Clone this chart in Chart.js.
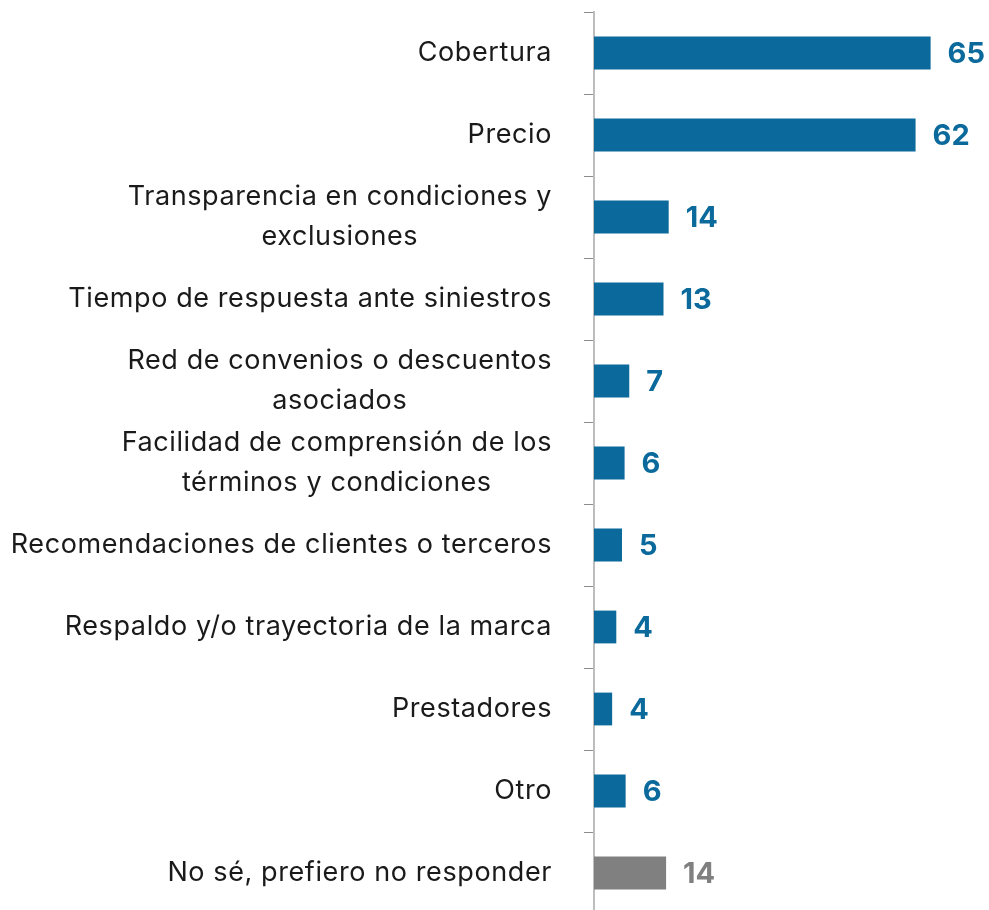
<!DOCTYPE html>
<html>
<head>
<meta charset="utf-8">
<script src="https://cdn.jsdelivr.net/npm/chart.js@4/dist/chart.umd.min.js"></script>
<style>
  html, body { margin: 0; padding: 0; background: #fff; overflow: hidden; }
  canvas { display: block; }
</style>
</head>
<body>
<canvas id="chart" width="989" height="916"></canvas>
<script>
// Data (bar lengths; labels show rounded values)
const categories = [
    ['Cobertura'],
    ['Precio'],
    ['Transparencia en condiciones y', 'exclusiones'],
    ['Tiempo de respuesta ante siniestros'],
    ['Red de convenios o descuentos', 'asociados'],
    ['Facilidad de comprensión de los', 'términos y condiciones'],
    ['Recomendaciones de clientes o terceros'],
    ['Respaldo y/o trayectoria de la marca'],
    ['Prestadores'],
    ['Otro'],
    ['No sé, prefiero no responder']
];
const values = [64.9, 62.0, 14.4, 13.4, 6.8, 5.9, 5.4, 4.3, 3.5, 6.1, 13.9];
const barColors = [
    '#0b6a9b', '#0b6a9b', '#0b6a9b', '#0b6a9b', '#0b6a9b', '#0b6a9b',
    '#0b6a9b', '#0b6a9b', '#0b6a9b', '#0b6a9b', '#808080'
];

const LABEL_FONT = '27px Inter';
const VALUE_FONT = 'bold 29px Inter';

// Category labels: block right aligned next to the axis, lines centred inside it
const categoryLabels = {
    id: 'categoryLabels',
    afterDraw: function (chart) {
        const ctx = chart.ctx;
        const scale = chart.scales.y;
        const right = chart.chartArea.left - 42;
        const lineH = 40;

        ctx.save();
        ctx.font = LABEL_FONT;
        ctx.letterSpacing = '0.6px';
        ctx.fillStyle = '#1a1a1a';
        ctx.textAlign = 'center';
        ctx.textBaseline = 'middle';
        categories.forEach(function (lines, i) {
            const y = scale.getPixelForTick(i);
            const blockW = Math.max.apply(null, lines.map(l => ctx.measureText(l).width));
            const cx = right - blockW / 2;
            lines.forEach(function (line, j) {
                ctx.fillText(line, cx, y + (j - (lines.length - 1) / 2) * lineH);
            });
        });
        ctx.restore();
    }
};

// Value labels to the right of each bar
const valueLabels = {
    id: 'valueLabels',
    afterDatasetsDraw: function (chart) {
        const ctx = chart.ctx;
        const meta = chart.getDatasetMeta(0);

        ctx.save();
        ctx.font = VALUE_FONT;
        ctx.textAlign = 'left';
        ctx.textBaseline = 'middle';
        meta.data.forEach(function (bar, i) {
            ctx.fillStyle = barColors[i];
            ctx.fillText(String(Math.round(values[i])), bar.x + 17, bar.y + 1);
        });
        ctx.restore();
    }
};

new Chart(document.getElementById('chart').getContext('2d'), {
    type: 'bar',
    data: {
        labels: categories,
        datasets: [{
            data: values,
            backgroundColor: barColors,
            barPercentage: 0.4,
            categoryPercentage: 1
        }]
    },
    options: {
        indexAxis: 'y',
        responsive: false,
        animation: false,
        devicePixelRatio: 1,
        layout: {
            padding: { top: 12, right: 6, bottom: 2, left: 0 }
        },
        plugins: {
            legend: { display: false },
            tooltip: { enabled: false }
        },
        scales: {
            x: {
                display: false,
                min: 0,
                max: 75
            },
            y: {
                afterFit: function (scale) {
                    scale.width = 594;
                },
                ticks: { display: false },
                grid: {
                    display: true,
                    offset: true,
                    drawOnChartArea: false,
                    drawTicks: true,
                    tickLength: 10,
                    color: '#8c8c8c',
                    lineWidth: 1
                },
                border: {
                    display: true,
                    color: '#bdbdbd',
                    width: 2
                }
            }
        }
    },
    plugins: [categoryLabels, valueLabels]
});
</script>
</body>
</html>
